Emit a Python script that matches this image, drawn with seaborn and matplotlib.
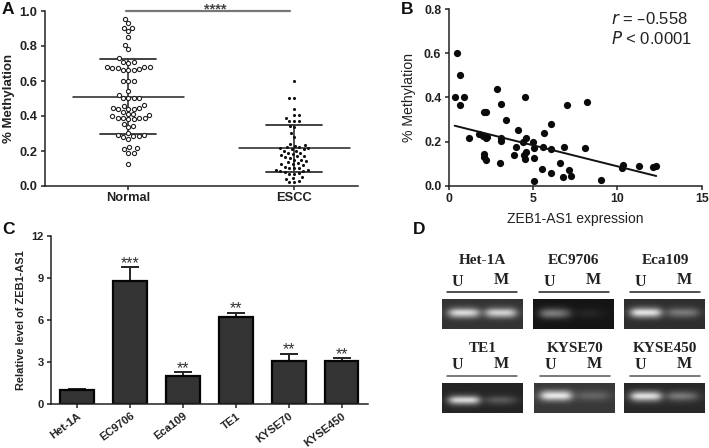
import numpy as np
import pandas as pd
import matplotlib
matplotlib.use("Agg")
from matplotlib import pyplot as plt
import seaborn as sns

# panel A
normal = [0.955, 0.93, 0.905, 0.90, 0.885, 0.85, 0.805, 0.78, 0.73, 0.71, 0.71, 0.705,
          0.68, 0.68, 0.68, 0.675, 0.675, 0.67, 0.66, 0.66, 0.66, 0.60, 0.60, 0.60,
          0.54, 0.52, 0.50, 0.50, 0.50, 0.50, 0.46, 0.455, 0.445, 0.445, 0.44, 0.44,
          0.44, 0.42, 0.41, 0.41, 0.405, 0.40, 0.39, 0.39, 0.39, 0.39, 0.38, 0.38,
          0.355, 0.34, 0.335, 0.305, 0.29, 0.29, 0.285, 0.285, 0.28, 0.27, 0.22,
          0.215, 0.21, 0.19, 0.19, 0.125]
escc = [0.60, 0.50, 0.50, 0.44, 0.405, 0.405, 0.39, 0.37, 0.37, 0.37, 0.34, 0.335,
        0.30, 0.28, 0.24, 0.235, 0.23, 0.22, 0.22, 0.215, 0.215, 0.21, 0.21, 0.20,
        0.20, 0.19, 0.19, 0.18, 0.175, 0.17, 0.17, 0.165, 0.16, 0.15, 0.15, 0.14,
        0.135, 0.13, 0.125, 0.125, 0.12, 0.11, 0.105, 0.10, 0.10, 0.09, 0.09, 0.085,
        0.085, 0.08, 0.075, 0.07, 0.07, 0.05, 0.045, 0.04, 0.03, 0.02, 0.02]
group_names = ["Normal", "ESCC"]
group_means = [0.51, 0.215]
group_upper = [0.725, 0.348]
group_lower = [0.295, 0.08]

# panel B
expr = [0.45, 0.65, 0.34, 0.9, 0.67, 2.85, 3.07, 2.05, 2.2, 3.37, 4.53, 7.0, 8.2, 6.04,
        4.08, 5.64, 1.2, 1.8, 2.04, 2.24, 2.2, 3.07, 3.07, 4.55, 4.4, 5.0, 4.0, 5.05,
        5.6, 6.04, 6.8, 8.08, 4.55, 3.88, 4.45, 2.05, 2.05, 2.2, 4.5, 5.03, 3.03, 5.54,
        6.08, 6.61, 7.13, 7.25, 6.75, 5.03, 9.0, 10.34, 10.26, 11.25, 12.1, 12.3]
methyl = [0.60, 0.50, 0.40, 0.40, 0.365, 0.44, 0.37, 0.333, 0.333, 0.30, 0.40, 0.366,
          0.38, 0.28, 0.254, 0.237, 0.215, 0.235, 0.225, 0.222, 0.215, 0.215, 0.204,
          0.215, 0.20, 0.20, 0.175, 0.17, 0.177, 0.166, 0.177, 0.171, 0.155, 0.138,
          0.139, 0.142, 0.129, 0.117, 0.122, 0.126, 0.101, 0.077, 0.057, 0.101, 0.071,
          0.044, 0.038, 0.021, 0.026, 0.094, 0.08, 0.089, 0.086, 0.091]
fit_x = [0.34, 12.3]
fit_y = [0.272, 0.044]

# panel C
cell_lines = ["Het-1A", "EC9706", "Eca109", "TE1", "KYSE70", "KYSE450"]
levels = [1.0, 8.8, 2.0, 6.2, 3.1, 3.05]
level_err = [0.05, 0.95, 0.25, 0.3, 0.5, 0.2]
level_stars = ["", "***", "**", "**", "**", "**"]

# panel D, brightness read across each gel from left to right
gel_names = ["Het-1A", "EC9706", "Eca109", "TE1", "KYSE70", "KYSE450"]
gel_profiles = [
    [0.05, 0.90, 0.95, 0.95, 0.85, 0.10, 0.85, 0.90, 0.90, 0.85, 0.05],
    [0.02, 0.48, 0.52, 0.50, 0.38, 0.05, 0.07, 0.09, 0.07, 0.03, 0.01],
    [0.05, 1.00, 1.00, 1.00, 0.95, 0.08, 0.38, 0.42, 0.42, 0.38, 0.04],
    [0.03, 0.95, 1.00, 1.00, 1.00, 0.08, 0.25, 0.30, 0.30, 0.22, 0.03],
    [0.08, 1.00, 1.00, 1.00, 1.00, 0.10, 0.22, 0.25, 0.25, 0.22, 0.05],
    [0.05, 1.00, 1.00, 1.00, 0.95, 0.08, 0.42, 0.45, 0.42, 0.32, 0.05],
]
gel_band_rows = [
    [0.0, 0.02, 0.25, 1.0, 0.55, 0.05, 0.0, 0.0],
    [0.0, 0.02, 0.25, 0.9, 0.70, 0.10, 0.0, 0.0],
    [0.0, 0.02, 0.30, 1.0, 0.50, 0.05, 0.0, 0.0],
    [0.0, 0.0, 0.02, 0.25, 1.0, 0.35, 0.03, 0.0],
    [0.0, 0.05, 0.55, 1.0, 0.35, 0.03, 0.0, 0.0],
    [0.0, 0.02, 0.40, 1.0, 0.40, 0.05, 0.0, 0.0],
]
gel_backgrounds = [0.20, 0.08, 0.18, 0.14, 0.22, 0.16]

W, H = 709, 448
sns.set_theme(style="ticks")
plt.rcParams["font.family"] = ["Liberation Sans", "DejaVu Sans"]
plt.rcParams["axes.linewidth"] = 1.1
plt.rcParams["xtick.major.width"] = 1.1
plt.rcParams["ytick.major.width"] = 1.1
plt.rcParams["axes.edgecolor"] = "#222222"


def box(x0, y0, x1, y1):
    # pixel box, y measured from the top of the image
    return [x0 / W, 1 - y1 / H, (x1 - x0) / W, (y1 - y0) / H]


def put(x, y, s, **kw):
    fig.text(x / W, 1 - y / H, s, ha=kw.pop("ha", "center"), va=kw.pop("va", "center"), **kw)


fig = plt.figure(figsize=(W / 100, H / 100), dpi=100)

# A
ax_a = fig.add_axes(box(44.7, 11, 358.3, 186))
df_a = pd.DataFrame({"group": ["Normal"] * len(normal) + ["ESCC"] * len(escc),
                     "value": normal + escc})
sns.swarmplot(data=df_a[df_a.group == "Normal"], x="group", y="value", order=group_names,
              ax=ax_a, size=3.0, marker="o", facecolor="white", edgecolor="#222222",
              linewidth=0.8)
sns.swarmplot(data=df_a[df_a.group == "ESCC"], x="group", y="value", order=group_names,
              ax=ax_a, size=3.3, color="#111111")
ax_a.set_xlim(-0.504, 1.386)
ax_a.set_ylim(0, 1)
# ESCC dots sit further apart than their size: take the swarm layout, redraw them small
fig.canvas.draw()
swarm = ax_a.collections[-1]
spread = np.array(swarm.get_offsets())
swarm.remove()
ax_a.scatter(spread[:, 0], spread[:, 1], s=5, color="#111111", linewidth=0, zorder=3)
for i in range(2):
    ax_a.plot([i - 0.334, i + 0.334], [group_means[i]] * 2, color="#222222", lw=1.1)
    ax_a.plot([i, i], [group_lower[i], group_upper[i]], color="#222222", lw=1.1)
    for v in (group_lower[i], group_upper[i]):
        ax_a.plot([i - 0.169, i + 0.169], [v, v], color="#333333", lw=1.3)
ax_a.plot([-0.015, 0.977], [1.0, 1.0], color="#777777", lw=1.6, clip_on=False)
ax_a.text(0.525, 0.988, "****", ha="center", va="baseline", fontsize=10.5, color="#444444",
          fontweight="bold")
ax_a.set_yticks(np.arange(0, 1.01, 0.2))
ax_a.set_xlabel("")
ax_a.set_ylabel("% Methylation", fontsize=9.5, fontweight="bold", color="#222222", labelpad=3)
ax_a.tick_params(length=3, pad=2.5, labelsize=9.3, colors="#222222")
ax_a.tick_params(axis="x", pad=1)
for t in ax_a.get_xticklabels() + ax_a.get_yticklabels():
    t.set_fontweight("bold")
sns.despine(ax=ax_a)

# B
ax_b = fig.add_axes(box(449, 9.3, 701.7, 185.7))
sns.scatterplot(x=expr, y=methyl, ax=ax_b, s=27, color="#0a0a0a", linewidth=0, clip_on=False)
sns.lineplot(x=fit_x, y=fit_y, ax=ax_b, color="#111111", lw=1.4)
ax_b.set_xlim(0, 15)
ax_b.set_ylim(0, 0.8)
ax_b.set_xticks([0, 5, 10, 15])
ax_b.set_yticks([0, 0.2, 0.4, 0.6, 0.8])
ax_b.set_yticklabels(["0.0", "0.2", "0.4", "0.6", "0.8"])
ax_b.set_xlabel("ZEB1-AS1 expression", fontsize=10, color="#222222", labelpad=5)
ax_b.set_ylabel("% Methylation", fontsize=10.2, color="#222222", labelpad=6)
ax_b.tick_params(length=3, pad=2.5, labelsize=8.8, colors="#222222")
for t in ax_b.get_xticklabels() + ax_b.get_yticklabels():
    t.set_fontweight("bold")
sns.despine(ax=ax_b)
put(611, 18.5, "$\\mathit{r}$ = \u20130.558", ha="left", fontsize=12, color="#222222",
    math_fontfamily="dejavusans")
put(611, 38, "$\\mathit{P}$ < 0.0001", ha="left", fontsize=12, color="#222222",
    math_fontfamily="dejavusans")

# C
ax_c = fig.add_axes(box(50.7, 235.7, 368, 404))
sns.barplot(x=cell_lines, y=levels, ax=ax_c, width=0.64, color="#333333", saturation=1,
            edgecolor="#050505", linewidth=1.6, zorder=2)
ax_c.errorbar(range(6), levels, yerr=[[0] * 6, level_err], fmt="none", ecolor="#222222",
              elinewidth=1.4, capsize=6.5, capthick=1.4, zorder=1)
for i, star in enumerate(level_stars):
    if star:
        ax_c.text(i, levels[i] + level_err[i] - 0.04, star, ha="center", va="baseline",
                  fontsize=11.5, color="#333333")
ax_c.set_xlim(-0.5, 5.5)
ax_c.set_ylim(0, 12)
ax_c.set_yticks([0, 3, 6, 9, 12])
ax_c.set_ylabel("Relative level of ZEB1-AS1", fontsize=7.9, fontweight="bold", color="#222222",
                labelpad=4)
ax_c.tick_params(length=3, pad=2, labelsize=8, colors="#222222")
for t in ax_c.get_xticklabels():
    t.set_rotation(37)
    t.set_ha("right")
    t.set_rotation_mode("anchor")
    t.set_fontweight("bold")
for t in ax_c.get_yticklabels():
    t.set_fontweight("bold")
sns.despine(ax=ax_c)

# D
gel_x = [441.7, 533, 624]
gel_y = [299.3, 383]
title_y = [261, 348]
letter_y = [281.5, 365]
rule_y = [292, 376]
for k, name in enumerate(gel_names):
    col, row = k % 3, k // 3
    x0, y0 = gel_x[col], gel_y[row]
    if k == 4:
        x0 += 1
    ax_g = fig.add_axes(box(x0, y0, x0 + 80.3, y0 + 30))
    band = np.outer(gel_band_rows[k], gel_profiles[k])
    halo = np.outer(np.convolve(gel_band_rows[k], [0.3, 0.4, 0.3], mode="same"), gel_profiles[k])
    img = gel_backgrounds[k] + (1 - gel_backgrounds[k]) * band + 0.06 * halo
    ax_g.imshow(img, cmap="gray", vmin=0, vmax=1, aspect="auto", interpolation="bicubic")
    ax_g.set_axis_off()
    cx = x0 + 40
    put(cx + 1, title_y[row], name, fontsize=11, fontweight="bold", color="#222222",
        family="Liberation Serif")
    put(cx - 24, letter_y[row], "U", fontsize=11.5, fontweight="bold", color="#222222",
        family="Liberation Serif")
    put(cx + 20, letter_y[row] - 1, "M", fontsize=11.5, fontweight="bold", color="#222222",
        family="Liberation Serif")
    fig.add_artist(plt.Line2D([(cx - 34.5) / W, (cx + 35.5) / W], [1 - rule_y[row] / H] * 2,
                              color="#222222" if row == 0 else "#555555", lw=1.1))

put(2, 9.5, "A", ha="left", fontsize=12.5, fontweight="bold", color="#111111")
put(401, 9, "B", ha="left", fontsize=12.5, fontweight="bold", color="#111111")
put(2, 229.5, "C", ha="left", fontsize=12.5, fontweight="bold", color="#111111")
put(413, 229.5, "D", ha="left", fontsize=12.5, fontweight="bold", color="#111111")

fig.savefig("out.png", dpi=100)
